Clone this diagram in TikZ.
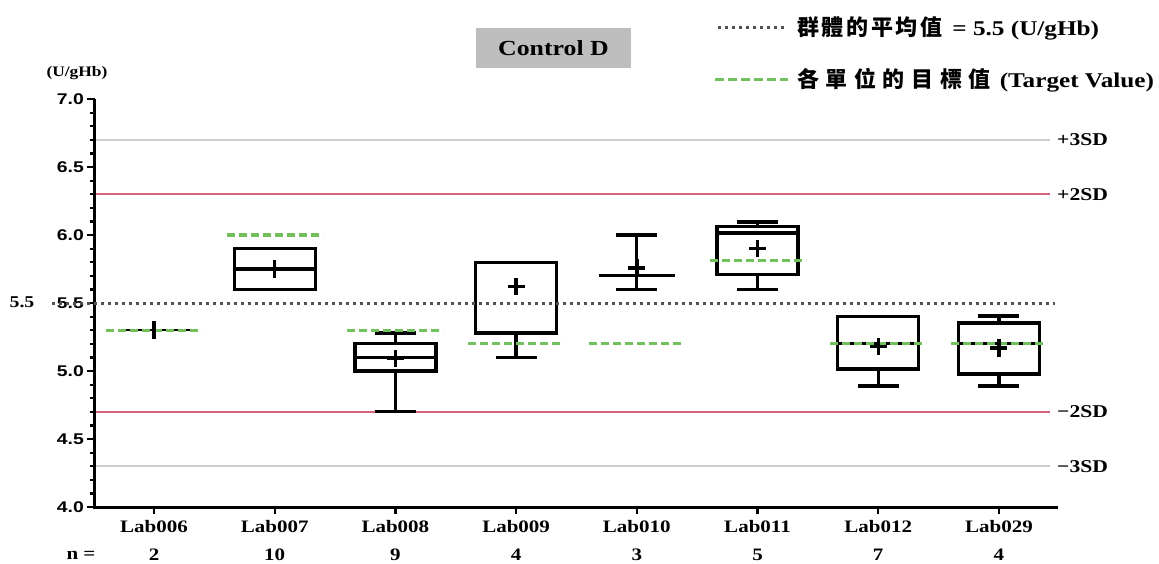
\documentclass[tikz,border=0pt]{standalone}
\usepackage{fontspec}
\setmainfont{Liberation Serif}[FakeStretch=1.2]
\newfontfamily\axfont{Liberation Sans}[FakeStretch=1.25]
\newfontfamily\cjka{Noto Sans CJK TC}[LetterSpace=12]
\newfontfamily\cjkb{Noto Sans CJK TC}[LetterSpace=30]
\definecolor{sdgray}{RGB}{205,205,205}
\definecolor{sdred}{RGB}{214,100,116}
\definecolor{tgreen}{RGB}{112,192,92}
\definecolor{mgray}{RGB}{80,80,80}
\definecolor{tbox}{RGB}{190,190,190}
\newcommand\bpbox[4]{\draw[boxline] ({#1-40.5},#2) rectangle ({#1+40.5},#3); \draw[boxline] ({#1-40.5},#4) -- ({#1+40.5},#4);}
\newcommand\bpwhisk[3]{\draw[boxline] (#1,#2) -- (#1,#3); \draw[boxline] ({#1-20.5},#3) -- ({#1+20.5},#3);}
\newcommand\bpmean[2]{\draw[meanmark] ({#1-8.5},#2) -- ({#1+8.5},#2) (#1,{#2-0.064}) -- (#1,{#2+0.064});}
\newcommand\bptarget[2]{\draw[targetline] ({#1-48},#2) -- ({#1+48},#2);}
\begin{document}
\begin{tikzpicture}[x=1pt,y=-1pt,
  boxline/.style={line width=3.3pt,black},
  meanmark/.style={line width=3.4pt,black},
  targetline/.style={line width=3pt,tgreen,dash pattern=on 8pt off 4pt},
  meanline/.style={line width=3pt,mgray,dash pattern=on 3pt off 4pt},
  sdline/.style={line width=1.6pt},
  labtxt/.style={font=\fontsize{17.5}{20}\selectfont\bfseries,inner sep=0pt},
  ticktxt/.style={font=\axfont\fontsize{15.5}{18}\selectfont\bfseries,inner sep=0pt,anchor=east},
  sdtxt/.style={font=\fontsize{18}{20}\selectfont\bfseries,inner sep=0pt,anchor=west},
  legtxt/.style={font=\fontsize{21}{24}\selectfont\bfseries,inner sep=0pt,anchor=west}]
\useasboundingbox (0,0) rectangle (1159,564);
\fill[white] (0,0) rectangle (1159,564);
% title
\node[fill=tbox,minimum width=155pt,minimum height=40pt,inner sep=0pt,
  font=\fontsize{21.5}{24}\selectfont\bfseries] (title) at (553.5,48) {Control D};
% legend
\draw[meanline] (718,28) -- (785,28);
\node[legtxt] (leg1) at (797,28) {{\cjka\fontsize{22}{24}\selectfont\bfseries 群體的平均值}\hspace{10pt}= 5.5 (U/gHb)};
\draw[targetline,dash pattern=on 9pt off 4pt] (715,80) -- (788,80);
\node[legtxt] (leg2) at (797,80) {{\cjkb\fontsize{22}{24}\selectfont\bfseries 各單位的目標值}\hspace{9pt}(Target Value)};
% unit
\node[font=\fontsize{14.5}{17}\selectfont\bfseries,inner sep=0pt] (unit) at (77,73) {(U/gHb)};
\node[font=\fontsize{16.5}{18}\selectfont\bfseries,inner sep=0pt] (mid) at (22,302) {5.5};
\begin{scope}[y=136pt,yshift=-1051pt]
  % reference lines
  \draw[sdline,sdgray] (95,6.7) -- (1050,6.7);
  \draw[sdline,sdgray] (95,4.3) -- (1050,4.3);
  \draw[sdline,sdred] (95,6.3) -- (1050,6.3);
  \draw[sdline,sdred] (95,4.7) -- (1050,4.7);
  \node[sdtxt] (p3) at (1057,6.7) {+3SD};
  \node[sdtxt] (p2) at (1057,6.3) {+2SD};
  \node[sdtxt] (m2) at (1057,4.7) {−2SD};
  \node[sdtxt] (m3) at (1057,4.3) {−3SD};
  % y axis
  \foreach \v in {4.1,4.2,...,6.95} \draw[line width=2.2pt] (90,\v) -- (94.5,\v);
  \foreach \v/\t in {4.0/4.0,4.5/4.5,5.0/5.0,5.5/5.5,6.0/6.0,6.5/6.5,7.0/7.0} {
    \draw[line width=2.2pt] (87,\v) -- (94.5,\v);
    \node[ticktxt] (t\t) at (84,\v) {\t};
  }
  \draw[line width=3.2pt] (94.5,7.0) -- (94.5,4.0);
  \draw[line width=3pt] (93,4.0) -- (1058,4.0);
  % x labels
  \node[labtxt] (nlab) at (81,{4-48/136}) {n =};
  \foreach \lab/\n [count=\i from 0] in {Lab006/2,Lab007/10,Lab008/9,Lab009/4,Lab010/3,Lab011/5,Lab012/7,Lab029/4} {
    \pgfmathsetmacro\cx{154+120.7*\i}
    \draw[line width=2.2pt] (\cx,4.0) -- (\cx,{4-7/136});
    \node[labtxt] (lab\i) at (\cx,{4-20/136}) {\lab};
    \node[labtxt] (n\i) at (\cx,{4-48/136}) {\n};
  }
  % Lab006
  \draw[line width=2pt] (118,5.3) -- (190,5.3);
  \bptarget{154}{5.3}
  \draw[meanmark] (154,5.236) -- (154,5.364);
  % Lab007
  \bpbox{274.7}{5.6}{5.9}{5.75}
  \bptarget{274.7}{6.0}
  \bpmean{274.7}{5.75}
  % Lab008
  \bpbox{395.4}{5.0}{5.2}{5.1}
  \bpwhisk{395.4}{5.2}{5.28}
  \bpwhisk{395.4}{5.0}{4.7}
  \bptarget{395.4}{5.3}
  \bpmean{395.4}{5.09}
  % Lab009
  \bpbox{516.1}{5.28}{5.8}{5.28}
  \bpwhisk{516.1}{5.28}{5.1}
  \bptarget{516.1}{5.2}
  \bpmean{516.1}{5.62}
  % Lab010
  \draw[boxline] ({636.8-38},5.7) -- ({636.8+38},5.7);
  \bpwhisk{636.8}{5.7}{6.0}
  \bpwhisk{636.8}{5.7}{5.6}
  \bptarget{636.8}{5.2}
  \bpmean{636.8}{5.757}
  % Lab011
  \bpbox{757.5}{5.71}{6.06}{6.015}
  \bpwhisk{757.5}{6.06}{6.096}
  \bpwhisk{757.5}{5.71}{5.6}
  \bptarget{757.5}{5.81}
  \bpmean{757.5}{5.9}
  % Lab012
  \bpbox{878.2}{5.015}{5.4}{5.2}
  \bpwhisk{878.2}{5.015}{4.89}
  \bptarget{878.2}{5.2}
  \bpmean{878.2}{5.18}
  % Lab029
  \bpbox{998.9}{4.978}{5.353}{5.2}
  \bpwhisk{998.9}{5.353}{5.404}
  \bpwhisk{998.9}{4.978}{4.89}
  \bptarget{998.9}{5.2}
  \bpmean{998.9}{5.17}
  % group mean
  \draw[meanline] (52,5.5) -- (1055,5.5);
\end{scope}
\end{tikzpicture}
\end{document}
